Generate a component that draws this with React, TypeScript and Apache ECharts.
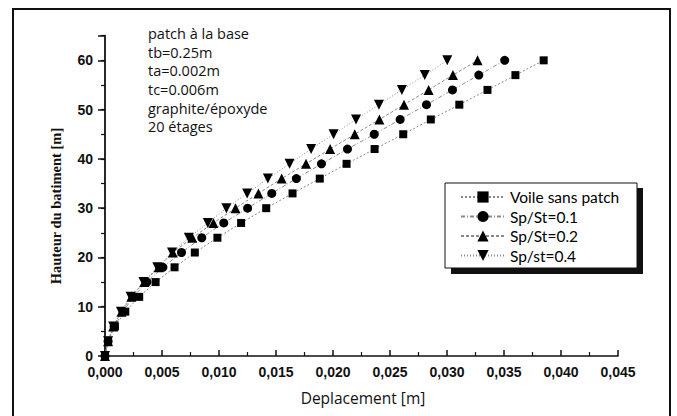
import React, { useEffect, useRef } from "react";
import * as echarts from "echarts";

const heights = [0, 3, 6, 9, 12, 15, 18, 21, 24, 27, 30, 33, 36, 39, 42, 45, 48, 51, 54, 57, 60];
const seriesNames = ["Voile sans patch", "Sp/St=0.1", "Sp/St=0.2", "Sp/st=0.4"];
const dispNoPatch = [0, 0.00027, 0.00087, 0.00178, 0.0030, 0.00444, 0.0061, 0.00788, 0.00986, 0.01194, 0.01414, 0.01645, 0.01884, 0.02119, 0.02365, 0.02616, 0.02858, 0.03108, 0.03355, 0.0360, 0.03848];
const dispSp01 = [0, 0.00027, 0.0008, 0.00159, 0.00246, 0.00368, 0.00508, 0.00671, 0.00849, 0.01042, 0.01251, 0.01463, 0.01679, 0.01899, 0.02127, 0.02362, 0.02589, 0.0282, 0.03048, 0.03279, 0.03506];
const dispSp02 = [0, 0.00027, 0.00072, 0.00144, 0.00231, 0.00345, 0.0047, 0.00595, 0.00766, 0.00951, 0.01145, 0.01346, 0.0155, 0.01763, 0.01975, 0.02191, 0.02407, 0.02623, 0.02839, 0.03052, 0.03268];
const dispSp04 = [0, 0.00027, 0.00072, 0.0014, 0.00224, 0.00337, 0.00459, 0.00588, 0.00735, 0.00902, 0.01065, 0.01247, 0.01429, 0.01619, 0.01808, 0.02005, 0.02202, 0.02403, 0.02604, 0.02805, 0.03002];
const xTicks = { min: 0, max: 0.045, interval: 0.005 };
const yTicks = { min: 0, max: 65, interval: 10 };
const noteLines = ["patch à la base", "tb=0.25m", "ta=0.002m", "tc=0.006m", "graphite/époxyde", "20 étages"];

const symbols = ["rect", "circle", "triangle", "path://M0,0 L10,0 L5,9 Z"];
const sizes = [8, 9, 10, 10];
const dashes: any[] = [[2, 2], [4, 2, 1, 2], [3, 2], [1, 2]];

export default function App() {
  const ref = useRef<HTMLDivElement>(null);
  useEffect(() => {
    const chart = echarts.init(ref.current!, null, { renderer: "svg" });
    const all = [dispNoPatch, dispSp01, dispSp02, dispSp04];
    const series = all.map((d, i) => ({
      name: seriesNames[i],
      type: "line",
      data: d.map((x, k) => [x, heights[k]]),
      symbol: symbols[i],
      symbolSize: sizes[i],
      showAllSymbol: true,
      itemStyle: { color: "#000" },
      lineStyle: { color: "#8a8a8a", width: 1, type: dashes[i] },
      z: 3,
    }));
    const tickFont = { fontFamily: "Liberation Sans", fontSize: 14, fontWeight: "bold", color: "#111" };
    chart.setOption({
      animation: false,
      backgroundColor: "#fff",
      grid: { left: 105, right: 59, top: 35.7, bottom: 60 },
      xAxis: {
        type: "value",
        min: xTicks.min,
        max: xTicks.max,
        interval: xTicks.interval,
        axisLine: { show: true, lineStyle: { color: "#111", width: 1.5 } },
        axisTick: { show: true, inside: true, length: 6, lineStyle: { color: "#111", width: 1.5 } },
        minorTick: { show: true, splitNumber: 2, length: 4, lineStyle: { color: "#111", width: 1.2 } },
        splitLine: { show: false },
        axisLabel: { ...tickFont, margin: 9, formatter: (v: number) => v.toFixed(3).replace(".", ",") },
      },
      yAxis: [
        {
          type: "value",
          min: yTicks.min,
          max: yTicks.max,
          interval: 5,
          axisLine: { show: true, lineStyle: { color: "#111", width: 1.8 } },
          axisTick: { show: true, inside: false, length: 4, lineStyle: { color: "#111", width: 1.2 } },
          splitLine: { show: false },
          axisLabel: {
            ...tickFont,
            margin: 12,
            formatter: (v: number) => (v % 10 === 0 ? String(v) : ""),
          },
        },
        {
          type: "value",
          min: yTicks.min,
          max: yTicks.max,
          interval: yTicks.interval,
          position: "left",
          axisLine: { show: false },
          axisTick: { show: true, inside: false, length: 7, lineStyle: { color: "#111", width: 1.5 } },
          splitLine: { show: false },
          axisLabel: { show: false },
        },
      ],
      legend: {
        left: 460,
        top: 189,
        orient: "vertical",
        itemWidth: 44,
        itemHeight: 14,
        itemGap: 3.5,
        padding: 0,
        data: seriesNames,
        textStyle: { fontFamily: "Lato", fontSize: 15.5, color: "#000" },
        z: 10,
      },
      graphic: [
        { type: "rect", shape: { x: 13, y: 9, width: 657, height: 420 }, style: { fill: "none", stroke: "#111", lineWidth: 2 }, z: 1 },
        { type: "rect", shape: { x: 451, y: 188, width: 192, height: 86 }, style: { fill: "#111" }, z: 5 },
        { type: "rect", shape: { x: 445, y: 183, width: 192, height: 85 }, style: { fill: "#fff", stroke: "#111", lineWidth: 1 }, z: 6 },
        {
          type: "text",
          left: 148,
          top: 24,
          style: { text: noteLines.join("\n"), fontFamily: "Open Sans", fontSize: 14.5, lineHeight: 18.7, fill: "#111" },
          z: 6,
        },
        {
          type: "text",
          x: 363,
          y: 398,
          style: { text: "Deplacement [m]", fontFamily: "Open Sans", fontSize: 15.5, fill: "#111", align: "center", verticalAlign: "middle" },
          z: 6,
        },
        {
          type: "text",
          x: 56,
          y: 206,
          rotation: Math.PI / 2,
          style: { text: "Hauteur du batiment [m]", fontFamily: "Liberation Serif", fontWeight: "bold", fontSize: 14.5, fill: "#111", align: "center", verticalAlign: "middle" },
          z: 6,
        },
      ],
      series,
    });
    return () => chart.dispose();
  }, []);
  return <div ref={ref} style={{ position: "fixed", left: 0, top: 0, width: 677, height: 416 }} />;
}
